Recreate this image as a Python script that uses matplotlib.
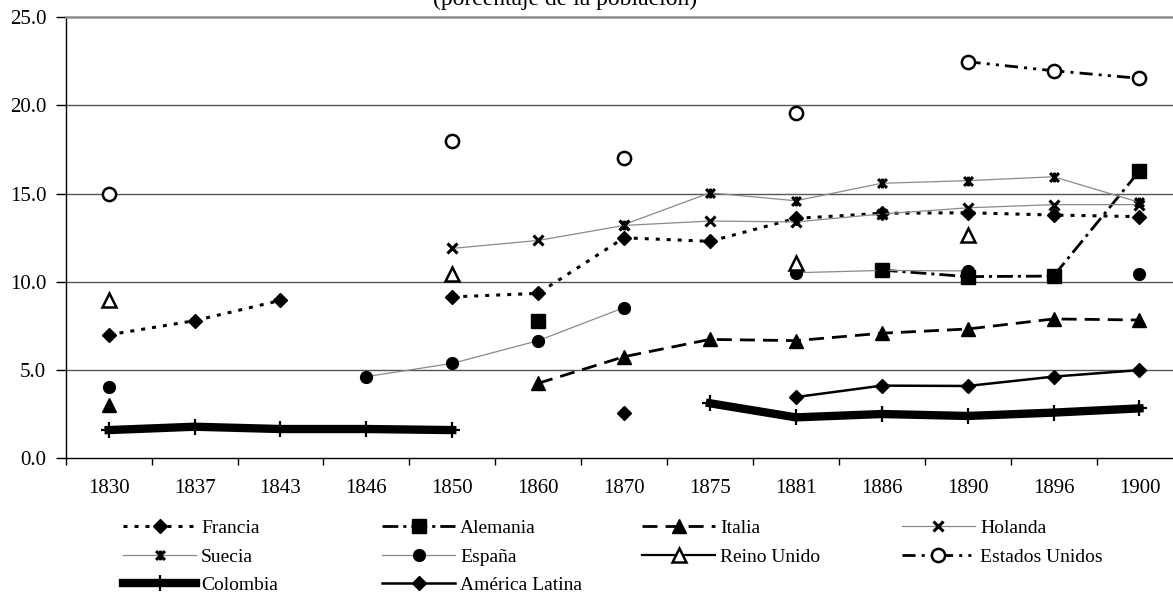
import numpy as np
import matplotlib
matplotlib.use("Agg")
import matplotlib.pyplot as plt
from matplotlib.path import Path
from matplotlib.lines import Line2D

nan = np.nan
years = ["1830", "1837", "1843", "1846", "1850", "1860", "1870", "1875",
         "1881", "1886", "1890", "1896", "1900"]

francia = [7.0, 7.8, 8.95, nan, 9.15, 9.35, 12.5, 12.3, 13.6, 13.89, 13.92, 13.79, 13.7]
alemania = [nan, nan, nan, nan, nan, 7.8, nan, nan, nan, 10.67, 10.3, 10.33, 16.29]
italia = [3.02, nan, nan, nan, nan, 4.25, 5.76, 6.74, 6.67, 7.09, 7.33, 7.9, 7.84]
holanda = [nan, nan, nan, nan, 11.9, 12.35, 13.2, 13.45, 13.4, 13.85, 14.2, 14.38, 14.38]
suecia = [nan, nan, nan, nan, nan, nan, 13.25, 15.05, 14.6, 15.59, 15.74, 15.96, 14.51]
espana = [4.02, nan, nan, 4.63, 5.38, 6.67, 8.54, nan, 10.52, 10.65, 10.62, nan, 10.43]
reino_unido = [9.0, nan, nan, nan, 10.45, nan, nan, nan, 11.05, nan, 12.66, nan, nan]
estados_unidos = [15.0, nan, nan, nan, 18.0, nan, 17.05, nan, 19.55, nan, 22.48, 21.97, 21.54]
colombia = [1.6, 1.79, 1.66, 1.66, 1.6, nan, nan, 3.12, 2.32, 2.51, 2.4, 2.59, 2.83]
america_latina = [nan, nan, nan, nan, nan, nan, 2.55, nan, 3.47, 4.12, 4.1, 4.63, 5.0]

plt.rcParams['font.family'] = ['Liberation Serif', 'DejaVu Serif']

W, H = 1173, 592
fig = plt.figure(figsize=(W / 100, H / 100), dpi=100)
left, right, bottom, top = 65.7, 1182.4, 458.3, 17.3
ax = fig.add_axes([left / W, (H - bottom) / H, (right - left) / W, (bottom - top) / H])

x = np.arange(len(years))

star = Path([(-1, -1), (1, 1), (-1, 1), (1, -1), (0, -1.1), (0, 1.1)],
            [Path.MOVETO, Path.LINETO, Path.MOVETO, Path.LINETO, Path.MOVETO, Path.LINETO])

gray = '#8a8a8a'
series = [
    ("Francia", francia, dict(color='black', lw=2.2, dashes=(1.3, 2.3), marker='D', ms=7.5,
                             mfc='black', mec='black')),
    ("Alemania", alemania, dict(color='black', lw=2.0, dashes=(5.7, 1.8, 1.1, 1.8), marker='s', ms=9.5,
                               mfc='black', mec='black')),
    ("Italia", italia, dict(color='black', lw=2.0, dashes=(5.4, 2.9), marker='^', ms=10,
                           mfc='black', mec='black')),
    ("Holanda", holanda, dict(color=gray, lw=0.9, marker='x', ms=7, mew=2.2, mfc='black', mec='black')),
    ("Suecia", suecia, dict(color=gray, lw=0.9, marker=star, ms=7, mew=2.2, mfc='black', mec='black')),
    ("España", espana, dict(color=gray, lw=0.9, marker='o', ms=8.5, mfc='black', mec='black')),
    ("Reino Unido", reino_unido, dict(color='black', lw=1.6, marker='^', ms=9.5, mew=1.8,
                                      mfc='white', mec='black')),
    ("Estados Unidos", estados_unidos, dict(color='black', lw=2.0, dashes=(4.7, 2.2, 1.1, 2.2, 1.1, 2.2),
                                            marker='o', ms=9.5, mew=1.8, mfc='white', mec='black')),
    ("Colombia", colombia, dict(color='black', lw=6.0, marker='+', ms=12, mew=1.6, mec='black')),
    ("América Latina", america_latina, dict(color='black', lw=1.8, marker='D', ms=7.5,
                                            mfc='black', mec='black')),
]

handles = []
for name, vals, kw in series:
    ln, = ax.plot(x, vals, label=name, zorder=3, **kw)
    handles.append(ln)

ax.set_xlim(-0.5, len(years) - 0.5)
ax.set_ylim(0, 25)
ax.set_yticks([0, 5, 10, 15, 20, 25])
ax.set_yticklabels(["0.0", "5.0", "10.0", "15.0", "20.0", "25.0"])
ax.set_xticks(x)
ax.set_xticklabels(years)
ax.set_xticks(np.arange(-0.5, len(years)), minor=True)
ax.tick_params(axis='x', which='major', length=0, pad=15, labelsize=15)
ax.tick_params(axis='x', which='minor', length=5, width=1, direction='out')
ax.tick_params(axis='y', which='major', length=7, width=1, direction='out', pad=7, labelsize=15)

for v in [5, 10, 15, 20]:
    ax.axhline(v, color='#555555', lw=1.0, zorder=1)
ax.spines['top'].set_color('#8a8a8a')
ax.spines['top'].set_linewidth(1.8)
ax.spines['right'].set_visible(False)
ax.spines['left'].set_linewidth(1.0)
ax.spines['bottom'].set_linewidth(1.0)

fig.text(565 / W, 1 - 5 / H, "(porcentaje de la población)", ha='center', va='baseline', fontsize=17)

# legend: uniform grid
col_x = [123, 382, 642, 902]
row_y = [528, 557, 585]
fs = 14
fpx = fs * 100 / 72
for i, (h, (name, _, _)) in enumerate(zip(handles, series)):
    r, c = divmod(i, 4)
    lg = fig.legend([h], [name], loc='center left',
                    bbox_to_anchor=(col_x[c] / W, 1 - row_y[r] / H),
                    frameon=False, borderpad=0, borderaxespad=0,
                    handlelength=73 / fpx, handletextpad=5 / fpx, fontsize=fs, numpoints=1)

fig.savefig("out.png", dpi=100)
